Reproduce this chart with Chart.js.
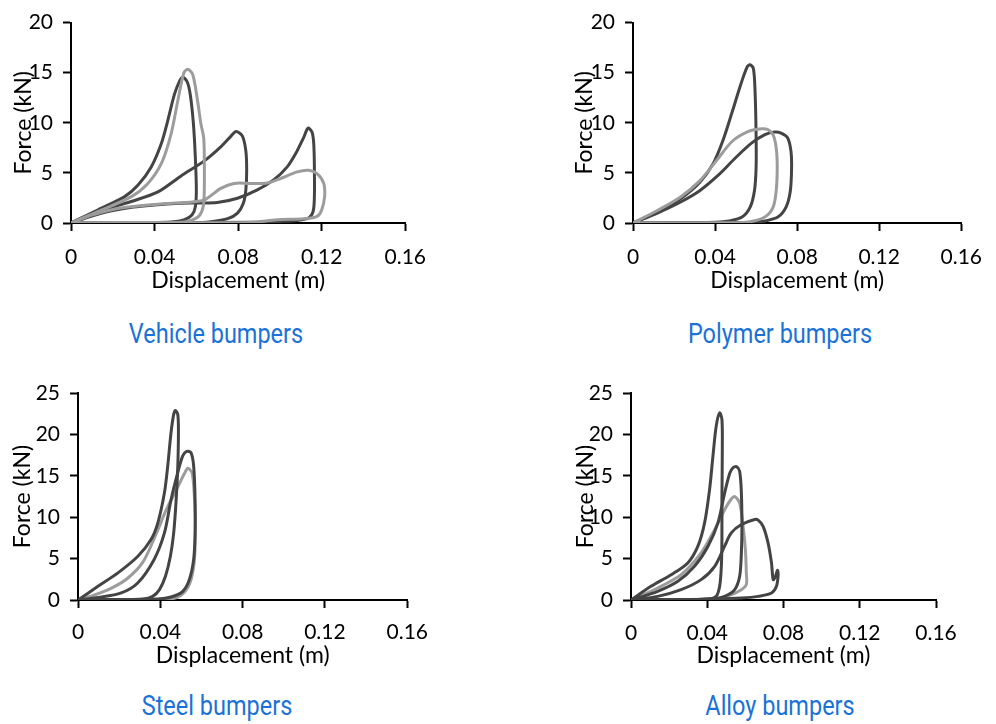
<!DOCTYPE html>
<html>
<head>
<meta charset="utf-8">
<title>Bumper force-displacement loops</title>
<script src="https://cdn.jsdelivr.net/npm/chart.js@4.4.1/dist/chart.umd.min.js"></script>
<style>
  body { margin: 0; background: #fff; width: 996px; height: 724px; position: relative; overflow: hidden; }
  canvas.panel { position: absolute; }
  .caption {
    position: absolute;
    font-family: Roboto, sans-serif;
    font-size: 27px;
    line-height: 27px;
    color: #1b72d6;
    white-space: nowrap;
    transform: translateX(-50%) scaleX(0.87);
  }
</style>
</head>
<body>
<canvas id="vehicleChart" class="panel" width="440" height="300" style="left:0;top:0"></canvas>
<canvas id="polymerChart" class="panel" width="436" height="300" style="left:560px;top:0"></canvas>
<canvas id="steelChart" class="panel" width="440" height="300" style="left:0;top:370px"></canvas>
<canvas id="alloyChart" class="panel" width="436" height="300" style="left:560px;top:370px"></canvas>

<div class="caption" style="left:216px;top:321px">Vehicle bumpers</div>
<div class="caption" style="left:780px;top:321px">Polymer bumpers</div>
<div class="caption" style="left:217px;top:693px">Steel bumpers</div>
<div class="caption" style="left:780px;top:693px">Alloy bumpers</div>

<script>
// displacement (m), force (kN) pairs for each load/unload loop
const xTicks = [0, 0.04, 0.08, 0.12, 0.16];
const yTicks20 = [0, 5, 10, 15, 20];
const yTicks25 = [0, 5, 10, 15, 20, 25];

const vehicleLoop1 = [[0,0],[0.013,1.32],[0.0257,2.63],[0.0321,3.78],[0.0384,5.59],[0.0432,7.9],[0.0463,10.2],[0.0495,12.83],[0.0519,14.14],[0.0535,14.55],[0.0556,14.1],[0.0571,12.8],[0.0586,9.9],[0.0595,6.6],[0.06,3.3],[0.0595,1.6],[0.0579,0.8],[0.0543,0.33],[0.048,0.1],[0.035,0.05],[0.015,0.05],[0,0]];
const vehicleLoop2 = [[0,0],[0.013,1.15],[0.0289,2.63],[0.0368,3.95],[0.0432,5.92],[0.0479,8.88],[0.0511,12.17],[0.054,14.97],[0.0559,15.35],[0.0583,14.8],[0.0606,12.17],[0.0622,9.87],[0.0635,8.55],[0.0638,6.58],[0.0638,3.29],[0.0633,1.64],[0.0614,0.72],[0.0575,0.26],[0.051,0.05],[0.03,0.05],[0,0]];
const vehicleLoop3 = [[0,0],[0.01,0.9],[0.02,1.6],[0.0289,2.15],[0.0416,3.1],[0.0527,4.7],[0.0638,6.2],[0.0717,7.6],[0.0765,8.65],[0.079,9.12],[0.082,8.7],[0.0837,7.2],[0.0841,5.26],[0.0837,3.3],[0.0825,1.97],[0.0797,0.99],[0.075,0.43],[0.067,0.13],[0.0575,0.03],[0.03,0.03],[0,0]];
const vehicleLoop4 = [[0,0],[0.01,0.7],[0.02,1.25],[0.03,1.6],[0.04,1.8],[0.05,1.95],[0.06,2.0],[0.07,2.05],[0.0797,2.47],[0.0892,3.3],[0.097,4.3],[0.1035,5.6],[0.108,7.1],[0.1114,8.55],[0.1135,9.47],[0.1154,9.05],[0.1162,7.9],[0.1165,5.6],[0.1165,2.6],[0.1159,1.15],[0.1138,0.5],[0.1083,0.26],[0.1003,0.16],[0.086,0.07],[0.05,0.03],[0,0]];
const vehicleLoop5 = [[0,0],[0.01,0.8],[0.02,1.35],[0.03,1.65],[0.04,1.85],[0.05,2.0],[0.058,2.1],[0.0638,2.3],[0.0717,3.45],[0.0781,3.95],[0.086,3.95],[0.094,4.0],[0.1003,4.44],[0.1083,5.1],[0.1138,5.26],[0.1178,4.93],[0.121,3.95],[0.1214,2.63],[0.12,1.3],[0.1178,0.66],[0.1114,0.43],[0.0987,0.33],[0.086,0.05],[0.05,0.03],[0,0]];

const polymerLoop1 = [[0,0],[0.0119,1.09],[0.023,2.4],[0.0325,4.05],[0.0389,5.86],[0.0437,8.16],[0.0484,11.12],[0.0524,13.75],[0.0556,15.56],[0.0571,15.8],[0.0587,15.4],[0.0595,13.1],[0.06,8.8],[0.06,5.53],[0.0592,3.22],[0.0571,1.58],[0.0532,0.59],[0.0468,0.2],[0.0405,0.07],[0.02,0.05],[0,0]];
const polymerLoop2 = [[0,0],[0.0119,1.25],[0.023,2.57],[0.0325,4.2],[0.0405,6.18],[0.0484,8.16],[0.0563,9.14],[0.0627,9.41],[0.0659,9.31],[0.0683,8.8],[0.0698,7.5],[0.0703,5.53],[0.0698,3.22],[0.0683,1.58],[0.0643,0.59],[0.0563,0.1],[0.0468,0.03],[0.02,0.03],[0,0]];
const polymerLoop3 = [[0,0],[0.0119,0.99],[0.023,2.07],[0.0325,3.22],[0.0421,4.87],[0.05,6.51],[0.0579,7.99],[0.0643,8.82],[0.069,9.08],[0.0722,8.98],[0.0754,8.49],[0.077,7.17],[0.0773,5.53],[0.0767,3.22],[0.0746,1.58],[0.0706,0.59],[0.0643,0.2],[0.0563,0.03],[0.03,0.03],[0,0]];

const steelLoop1 = [[0,0],[0.0097,1.65],[0.0194,3.27],[0.0291,5.28],[0.0355,7.3],[0.0388,9.31],[0.042,12.94],[0.0436,16.17],[0.0452,20.2],[0.0465,22.42],[0.0473,22.9],[0.0485,22.4],[0.0488,20.2],[0.0485,16.2],[0.0477,12.1],[0.0465,8.1],[0.0449,5.28],[0.0425,2.86],[0.0396,1.25],[0.0363,0.44],[0.0315,0.12],[0.015,0.05],[0,0]];
const steelLoop2 = [[0,0],[0.01,0.3],[0.021,0.85],[0.029,2.05],[0.037,4.9],[0.042,8.1],[0.0452,12.1],[0.0485,15.4],[0.0509,17.4],[0.0528,17.95],[0.0549,17.8],[0.0562,16.2],[0.0569,12.1],[0.0569,8.1],[0.0562,4.9],[0.0541,2.46],[0.0509,1.05],[0.0452,0.36],[0.0388,0.12],[0.02,0.05],[0,0]];
const steelLoop3 = [[0,0],[0.008,0.6],[0.016,1.4],[0.024,2.6],[0.0316,4.6],[0.038,8.0],[0.0429,10.9],[0.0478,13.3],[0.0518,15.3],[0.0534,15.9],[0.0555,15.3],[0.0567,11.7],[0.057,7.66],[0.0564,4.43],[0.0543,2.0],[0.0502,0.6],[0.0445,0.12],[0.02,0.05],[0,0]];

const alloyLoop1 = [[0,0],[0.0105,1.65],[0.0211,3.06],[0.0298,4.48],[0.0351,6.5],[0.0386,9.31],[0.0412,13.3],[0.043,17.4],[0.0447,21.0],[0.0465,22.6],[0.0477,21.8],[0.0479,18.2],[0.0477,12.1],[0.0477,7.3],[0.0474,4.07],[0.0465,1.65],[0.0447,0.44],[0.0404,0.12],[0.02,0.05],[0,0]];
const alloyLoop2 = [[0,0],[0.014,1.05],[0.0246,2.26],[0.0333,4.07],[0.0404,6.5],[0.0456,9.31],[0.0491,12.9],[0.0518,15.3],[0.0535,15.97],[0.0553,16.1],[0.057,15.56],[0.0579,12.9],[0.0582,8.9],[0.0579,5.69],[0.057,2.86],[0.0544,1.25],[0.0491,0.44],[0.0421,0.12],[0.02,0.05],[0,0]];
const alloyLoop3 = [[0,0],[0.014,1.45],[0.0263,3.06],[0.0368,5.69],[0.0439,8.5],[0.0491,10.9],[0.0526,12.2],[0.0544,12.5],[0.057,11.7],[0.0588,8.9],[0.06,6.1],[0.0605,3.27],[0.0605,1.85],[0.0579,1.25],[0.0526,0.65],[0.0474,0.24],[0.03,0.05],[0,0]];
const alloyLoop4 = [[0,0],[0.014,0.44],[0.0263,1.25],[0.0368,2.46],[0.0439,4.07],[0.0491,6.5],[0.0526,8.1],[0.0579,9.11],[0.0649,9.72],[0.0667,9.64],[0.0693,8.9],[0.0719,6.9],[0.0737,4.48],[0.0746,2.46],[0.0758,2.86],[0.0768,3.6],[0.0772,3.06],[0.0763,1.65],[0.0737,0.85],[0.0667,0.44],[0.0579,0.24],[0.035,0.05],[0,0]];

const dark = '#444444';
const light = '#9c9c9c';
const tickFont = { family: 'Lato', size: 21 };
const titleFont = { family: 'Lato', size: 23 };

// frame = pixel box of the plot area inside its canvas plus label paddings
function bumperChart(canvasId, loops, yTicks, frame) {
  const canvas = document.getElementById(canvasId);
  return new Chart(canvas, {
    type: 'scatter',
    data: {
      datasets: loops.map(([points, color]) => ({
        data: points.map(([x, y]) => ({ x, y })),
        showLine: true,
        borderColor: color,
        borderWidth: 3,
        pointRadius: 0,
        tension: 0.3,
      })),
    },
    options: {
      responsive: false,
      animation: false,
      layout: {
        padding: { left: 0, top: frame.top, right: canvas.width - frame.right, bottom: 0 },
      },
      plugins: { legend: { display: false }, tooltip: { enabled: false } },
      scales: {
        x: {
          type: 'linear',
          min: xTicks[0],
          max: xTicks[xTicks.length - 1],
          afterBuildTicks: (scale) => { scale.ticks = xTicks.map((v) => ({ value: v })); },
          afterFit: (scale) => { scale.height = canvas.height - frame.bottom; },
          ticks: { color: '#000', font: tickFont, padding: frame.xTickPad, maxRotation: 0, autoSkip: false, callback: (v) => String(v) },
          grid: { drawOnChartArea: false, color: '#000', tickLength: 8, tickWidth: 2 },
          border: { color: '#000', width: 2 },
          title: { display: true, text: 'Displacement (m)', color: '#000', font: titleFont, padding: { top: 0, bottom: frame.xTitlePad } },
        },
        y: {
          type: 'linear',
          min: yTicks[0],
          max: yTicks[yTicks.length - 1],
          afterBuildTicks: (scale) => { scale.ticks = yTicks.map((v) => ({ value: v })); },
          afterFit: (scale) => { scale.width = frame.left; },
          ticks: { color: '#000', font: tickFont, padding: frame.yTickPad, autoSkip: false, callback: (v) => String(v) },
          grid: { drawOnChartArea: false, color: '#000', tickLength: 8, tickWidth: 2 },
          border: { color: '#000', width: 2 },
          title: { display: true, text: 'Force (kN)', color: '#000', font: titleFont, padding: { top: frame.yTitlePad, bottom: 0 } },
        },
      },
    },
  });
}

bumperChart('vehicleChart',
  [[vehicleLoop5, light], [vehicleLoop2, light], [vehicleLoop4, dark], [vehicleLoop3, dark], [vehicleLoop1, dark]],
  yTicks20,
  { left: 71, right: 408, top: 18, bottom: 223, xTickPad: 14, yTickPad: 10, xTitlePad: 5.2, yTitlePad: 9.5 });

bumperChart('polymerChart',
  [[polymerLoop2, light], [polymerLoop3, dark], [polymerLoop1, dark]],
  yTicks20,
  { left: 73, right: 409, top: 18, bottom: 223, xTickPad: 14, yTickPad: 10, xTitlePad: 5.2, yTitlePad: 11.2 });

bumperChart('steelChart',
  [[steelLoop1, dark], [steelLoop2, dark], [steelLoop3, light]],
  yTicks25,
  { left: 78, right: 408, top: 23, bottom: 230, xTickPad: 12, yTickPad: 10, xTitlePad: 0.7, yTitlePad: 8.5 });

bumperChart('alloyChart',
  [[alloyLoop1, dark], [alloyLoop2, dark], [alloyLoop4, dark], [alloyLoop3, light]],
  yTicks25,
  { left: 71, right: 376, top: 23, bottom: 230, xTickPad: 12.7, yTickPad: 10, xTitlePad: 0.7, yTitlePad: 11.9 });
</script>
</body>
</html>
